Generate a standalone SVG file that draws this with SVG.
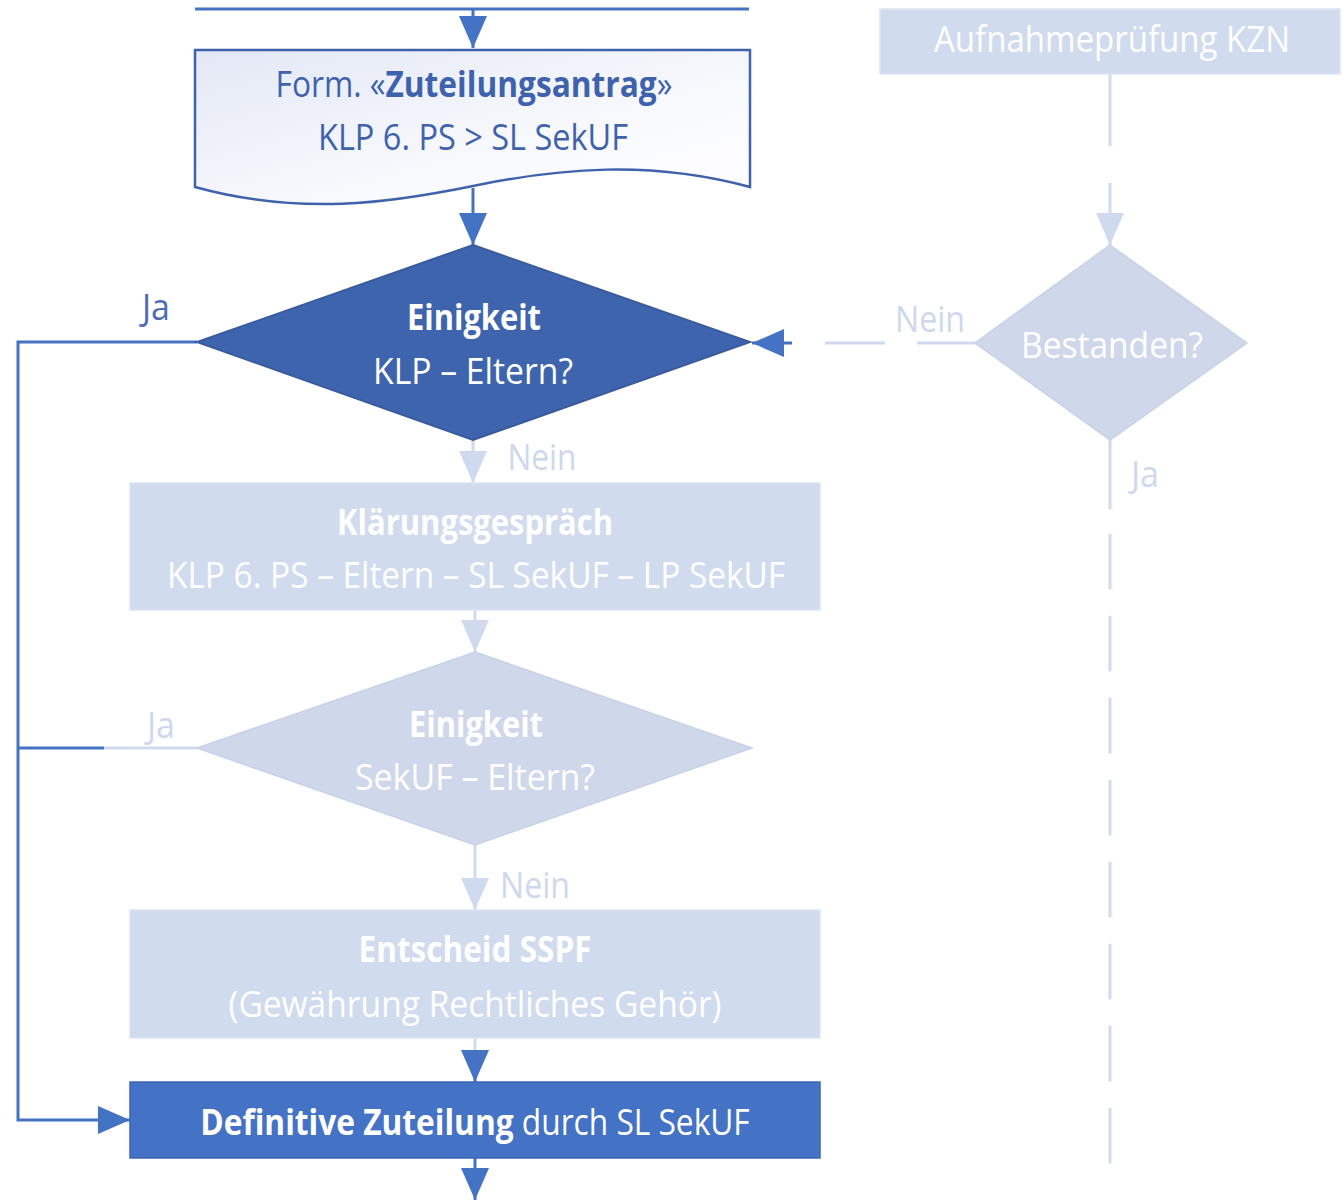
<svg xmlns="http://www.w3.org/2000/svg" width="1344" height="1200" viewBox="0 0 1344 1200">
<style>
  text { font-family: "Open Sans", "Liberation Sans", sans-serif; text-anchor: middle; }
  .t { font-size: 36px; }
  .b { font-weight: bold; }
  .w { fill: #ffffff; }
  .dk { fill: #4a6cb8; }
  .lt { fill: #cdd8ee; }
  .db { fill: #3f62ad; }
  .cd { fill: none; stroke: #4472c4; stroke-width: 3; }
  .cl { fill: none; stroke: #cfdaee; stroke-width: 3; }
  .boxl { fill: #d0dbee; stroke: #dde5f3; stroke-width: 1.5; }
  .diaml { fill: #cfd8ea; stroke: #c8d2e6; stroke-width: 1.5; }
</style>
<defs>
  <linearGradient id="docg" x1="0" y1="0" x2="1" y2="1">
    <stop offset="0" stop-color="#e3e8f5"/>
    <stop offset="0.6" stop-color="#f8f9fd"/>
    <stop offset="1" stop-color="#ffffff"/>
  </linearGradient>
  <marker id="ad" markerUnits="userSpaceOnUse" viewBox="0 0 32 28" refX="32" refY="14" markerWidth="32" markerHeight="28" orient="auto">
    <path d="M0,0 L32,14 L0,28 Z" fill="#4472c4"/>
  </marker>
  <marker id="al" markerUnits="userSpaceOnUse" viewBox="0 0 32 28" refX="32" refY="14" markerWidth="32" markerHeight="28" orient="auto">
    <path d="M0,0 L32,14 L0,28 Z" fill="#cfdaee"/>
  </marker>
</defs>
<rect width="1344" height="1200" fill="#ffffff"/>

<g id="connectors">
  <path class="cd" d="M195,9 H749" stroke-width="2"/>
  <path class="cd" d="M473,9 V48" marker-end="url(#ad)"/>
  <path class="cd" d="M473,188 V245" marker-end="url(#ad)"/>
  <path class="cd" d="M197,342 H18 V1120 H130" marker-end="url(#ad)"/>
  <path class="cl" d="M975,343 H792" stroke-dasharray="58 32 60 100"/>
  <path class="cd" d="M792,343 H752" marker-end="url(#ad)"/>
  <path class="cl" d="M473,440 V483" marker-end="url(#al)"/>
  <path class="cl" d="M475,610 V652" marker-end="url(#al)"/>
  <path class="cl" d="M197,748 H104"/>
  <path class="cd" d="M104,748 H18"/>
  <path class="cl" d="M475,845 V910" marker-end="url(#al)"/>
  <path class="cl" d="M475,1038 V1050"/>
  <path class="cd" d="M475,1050 V1082" marker-end="url(#ad)"/>
  <path class="cd" d="M475,1158 V1200" marker-end="url(#ad)"/>
  <path class="cl" d="M1110,74 V145" stroke-linecap="round"/>
  <path class="cl" d="M1110,183 V245" marker-end="url(#al)"/>
  <path class="cl" d="M1110,440 V508" stroke-linecap="round"/>
  <path class="cl" d="M1110,535 V1165" stroke-dasharray="53 29" stroke-linecap="round"/>
  <text class="t dk" x="156" y="320" textLength="28" lengthAdjust="spacingAndGlyphs">Ja</text>
  <text class="t lt" x="930" y="332" textLength="70" lengthAdjust="spacingAndGlyphs">Nein</text>
  <text class="t lt" x="542" y="470" textLength="69" lengthAdjust="spacingAndGlyphs">Nein</text>
  <text class="t lt" x="161" y="738" textLength="28" lengthAdjust="spacingAndGlyphs">Ja</text>
  <text class="t lt" x="535" y="898" textLength="70" lengthAdjust="spacingAndGlyphs">Nein</text>
  <text class="t lt" x="1145" y="487" textLength="28" lengthAdjust="spacingAndGlyphs">Ja</text>
</g>

<g id="n-antrag">
  <path d="M195,50 H750 V187 C650,160 560,168 473,186 C390,203 300,216 195,187 Z" fill="url(#docg)" stroke="#3f62ad" stroke-width="2.5"/>
  <text class="t db" transform="translate(474,97) scale(0.88,1)">Form. «<tspan class="b">Zuteilungsantrag</tspan>»</text>
  <text class="t db" x="473" y="150" textLength="310" lengthAdjust="spacingAndGlyphs">KLP 6. PS &gt; SL SekUF</text>
</g>

<g id="n-einigkeit1">
  <path d="M473,245 L750,342 L473,440 L197,342 Z" fill="#3e64ae" stroke="#3a5b9e" stroke-width="2"/>
  <text class="t b w" x="474" y="330" textLength="134" lengthAdjust="spacingAndGlyphs">Einigkeit</text>
  <text class="t w" x="473" y="384" textLength="200" lengthAdjust="spacingAndGlyphs">KLP – Eltern?</text>
</g>

<g id="n-aufnahme">
  <rect class="boxl" x="880" y="9" width="460" height="65"/>
  <text class="t w" x="1112" y="52" textLength="356" lengthAdjust="spacingAndGlyphs">Aufnahmeprüfung KZN</text>
</g>

<g id="n-bestanden">
  <path class="diaml" d="M1110,245 L1247,343 L1110,440 L975,343 Z"/>
  <text class="t w" x="1112" y="358" textLength="182" lengthAdjust="spacingAndGlyphs">Bestanden?</text>
</g>

<g id="n-klaerung">
  <rect class="boxl" x="130" y="483" width="690" height="127"/>
  <text class="t b w" x="475" y="535" textLength="276" lengthAdjust="spacingAndGlyphs">Klärungsgespräch</text>
  <text class="t w" x="476" y="588" textLength="618" lengthAdjust="spacingAndGlyphs">KLP 6. PS – Eltern – SL SekUF – LP SekUF</text>
</g>

<g id="n-einigkeit2">
  <path class="diaml" d="M475,652 L752,748 L475,845 L197,748 Z"/>
  <text class="t b w" x="476" y="737" textLength="134" lengthAdjust="spacingAndGlyphs">Einigkeit</text>
  <text class="t w" x="475" y="790" textLength="240" lengthAdjust="spacingAndGlyphs">SekUF – Eltern?</text>
</g>

<g id="n-entscheid">
  <rect class="boxl" x="130" y="910" width="690" height="128"/>
  <text class="t b w" x="475" y="962" textLength="233" lengthAdjust="spacingAndGlyphs">Entscheid SSPF</text>
  <text class="t w" x="475" y="1017" textLength="493" lengthAdjust="spacingAndGlyphs">(Gewährung Rechtliches Gehör)</text>
</g>

<g id="n-definitiv">
  <rect x="130" y="1082" width="690" height="76" fill="#4472c4" stroke="#3f66b3" stroke-width="1.5"/>
  <text class="t w" transform="translate(475,1135) scale(0.88,1)"><tspan class="b">Definitive Zuteilung</tspan> durch SL SekUF</text>
</g>
</svg>
